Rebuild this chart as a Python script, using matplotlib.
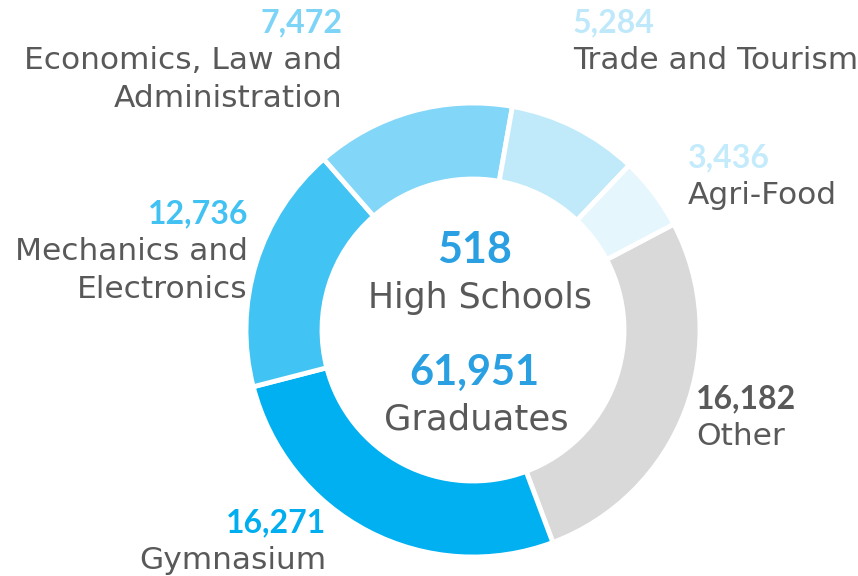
import matplotlib
matplotlib.use("Agg")
import matplotlib.pyplot as plt

plt.rcParams['font.family'] = ['DejaVu Sans']

# segments in drawing order (clockwise, starting right of the top)
categories = ["Other", "Gymnasium", "Mechanics and\nElectronics",
              "Economics, Law and\nAdministration", "Trade and Tourism", "Agri-Food"]
graduates = [16182, 16271, 12736, 7472, 5284, 3436]
# share of the ring each segment takes (%)
arc_share = [27.0, 26.7, 17.6, 14.2, 9.3, 5.2]
seg_colors = ["#D9D9D9", "#00B0F0", "#41C3F3", "#82D6F7", "#C0EAFA", "#E5F6FD"]
value_colors = ["#595959", "#00AEEF", "#41C2F3", "#7DD4F7", "#BFE9FA", "#C4EBFB"]

n_schools = 518
n_graduates = 61951

W, H = 858, 576
fig = plt.figure(figsize=(W / 100, H / 100), dpi=100)
ax = fig.add_axes([0, 0, 1, 1])

cx, cy, r_out, r_in = 473, H - 330, 227, 151
ax.pie(arc_share, colors=seg_colors, startangle=27.8, counterclock=False,
       center=(cx, cy), radius=r_out, frame=True,
       wedgeprops=dict(width=r_out - r_in, edgecolor="white", linewidth=3.5))
ax.set_xlim(0, W)
ax.set_ylim(0, H)
ax.axis("off")

gray = "#595959"
blue = "#2AA0E2"
num_font = ["Lato", "DejaVu Sans"]

# label anchors in pixels (x, baseline of value line, alignment)
anchors = [(696, 408, "left"), (326, 532, "right"), (248, 223, "right"),
           (342, 32, "right"), (573, 32, "left"), (688, 167, "left")]
for cat, val, vc, (x, y, ha) in zip(categories, graduates, value_colors, anchors):
    ax.text(x, H - y, f"{val:,}", ha=ha, va="baseline", fontsize=23,
            fontweight="bold", color=vc, family=num_font)
    for i, line in enumerate(cat.split("\n")):
        ax.text(x, H - (y + 37 + 38 * i), line, ha=ha, va="baseline",
                fontsize=22.5, color=gray)

ax.text(475, H - 263, f"{n_schools}", ha="center", va="baseline", fontsize=31,
        fontweight="bold", color=blue, family=num_font)
ax.text(480, H - 308, "High Schools", ha="center", va="baseline", fontsize=25,
        color=gray)
ax.text(474, H - 385, f"{n_graduates:,}", ha="center", va="baseline", fontsize=30,
        fontweight="bold", color=blue, family=num_font)
ax.text(476, H - 430, "Graduates", ha="center", va="baseline", fontsize=25.5,
        color=gray)

fig.savefig("out.png", dpi=100)
